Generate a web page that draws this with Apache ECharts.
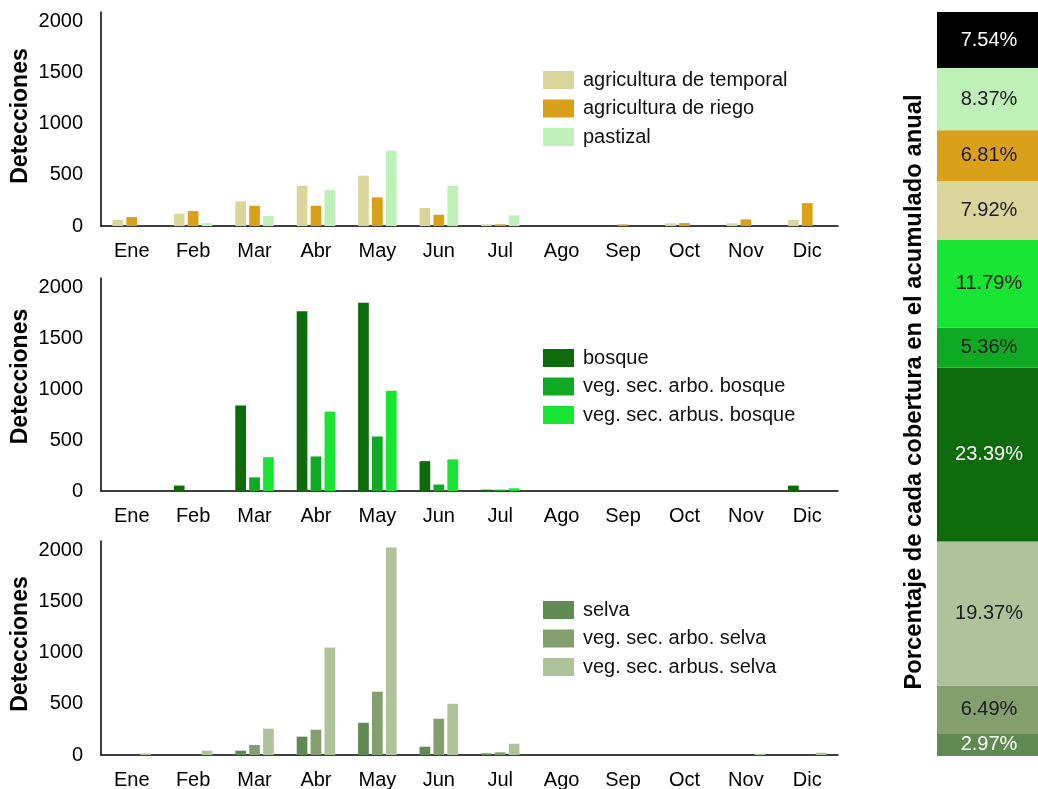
<!DOCTYPE html>
<html>
<head>
<meta charset="utf-8">
<script src="https://cdn.jsdelivr.net/npm/echarts@6/dist/echarts.min.js"></script>
<style>
html,body{margin:0;padding:0;background:#fff;}
#c{width:1038px;height:789px;}
</style>
</head>
<body>
<div id="c"></div>
<script>
const meses = ['Ene','Feb','Mar','Abr','May','Jun','Jul','Ago','Sep','Oct','Nov','Dic'];
const yTicks = [0, 500, 1000, 1500, 2000];

// Panel 1
const agriTemporal = [59,120,241,393,491,176,16,0,0,26,26,59];
const agriRiego    = [88,146,198,198,280,110,16,0,16,29,65,224];
const pastizal     = [0,29,98,351,735,393,104,0,0,0,0,0];
// Panel 2
const bosque         = [0,53,838,1763,1847,293,13,0,0,0,0,53];
const vegArboBosque  = [0,0,134,339,535,63,13,0,0,0,0,0];
const vegArbusBosque = [0,0,332,779,984,310,26,0,0,0,0,0];
// Panel 3
const selva         = [0,0,42,179,315,81,16,0,0,0,0,0];
const vegArboSelva  = [0,0,98,247,618,354,26,0,0,0,0,0];
const vegArbusSelva = [15,42,257,1051,2026,500,110,0,0,0,12,22];

// Annual share (bottom to top)
const coberturas = ['selva','veg. sec. arbo. selva','veg. sec. arbus. selva','bosque','veg. sec. arbo. bosque','veg. sec. arbus. bosque','agricultura de temporal','agricultura de riego','pastizal','otros'];
const porcentajes = [2.97,6.49,19.37,23.39,5.36,11.79,7.92,6.81,8.37,7.54];

const colores = {
  'agricultura de temporal':'#dad59b',
  'agricultura de riego':'#dba019',
  'pastizal':'#bdf1b8',
  'bosque':'#0d6b0b',
  'veg. sec. arbo. bosque':'#10a924',
  'veg. sec. arbus. bosque':'#18e532',
  'selva':'#5f8a51',
  'veg. sec. arbo. selva':'#829f6d',
  'veg. sec. arbus. selva':'#aec39a',
  'otros':'#000000'
};
const labelDark = {'otros':false,'bosque':false,'selva':false};

const FONT = '"Liberation Sans", Arial, sans-serif';

const panels = [
  {top:12, height:214, names:['agricultura de temporal','agricultura de riego','pastizal'], data:[agriTemporal,agriRiego,pastizal], legendTop:70, titleShift:6},
  {top:278, height:213, names:['bosque','veg. sec. arbo. bosque','veg. sec. arbus. bosque'], data:[bosque,vegArboBosque,vegArbusBosque], legendTop:348, titleShift:16},
  {top:541, height:214, names:['selva','veg. sec. arbo. selva','veg. sec. arbus. selva'], data:[selva,vegArboSelva,vegArbusSelva], legendTop:600, titleShift:8}
];

const grid = [], xAxis = [], yAxis = [], series = [], legend = [];
panels.forEach((p, i) => {
  grid.push({left:101, top:p.top, width:737, height:p.height, outerBoundsMode:'none', containLabel:false});
  xAxis.push({
    type:'category', gridIndex:i, data:meses,
    axisLine:{lineStyle:{color:'#000', width:1.5}},
    axisTick:{show:false},
    axisLabel:{color:'#000', fontSize:20, fontFamily:FONT, margin:15, interval:0}
  });
  yAxis.push({
    type:'value', gridIndex:i, min:0, max:2090, interval:500,
    name:'Detecciones', nameLocation:'middle', nameGap:69, nameMoveOverlap:false,
    nameTextStyle:{color:'#000', fontSize:23, fontWeight:'bold', fontFamily:FONT, padding:[0,0,0,p.titleShift]},
    axisLine:{show:true, lineStyle:{color:'#000', width:1.5}},
    axisTick:{show:false},
    splitLine:{show:false},
    axisLabel:{color:'#000', fontSize:20, fontFamily:FONT, margin:18, showMaxLabel:false,
      formatter: v => yTicks.indexOf(v) >= 0 ? String(v) : ''}
  });
  p.names.forEach((n, k) => {
    series.push({
      type:'bar', name:n, xAxisIndex:i, yAxisIndex:i, data:p.data[k],
      barWidth:10.7, barGap:'30%',
      itemStyle:{color:colores[n]},
      emphasis:{disabled:true}
    });
  });
  legend.push({
    data:p.names, left:543, top:p.legendTop, orient:'vertical', padding:0,
    itemWidth:31, itemHeight:18, itemGap:8.5,
    icon:'rect', selectedMode:false,
    textStyle:{color:'#111', fontSize:20, fontFamily:FONT, padding:[0,0,0,4]}
  });
});

// Annual stacked bar
grid.push({left:937, top:12, width:104, height:744, outerBoundsMode:'none', containLabel:false});
xAxis.push({type:'category', gridIndex:3, data:['anual'], show:false});
yAxis.push({
  type:'value', gridIndex:3, min:0, max:100,
  name:'Porcentaje de cada cobertura en el acumulado anual', nameLocation:'middle', nameGap:11, nameMoveOverlap:false,
  nameTextStyle:{color:'#000', fontSize:23.8, fontWeight:'bold', fontFamily:FONT, padding:[0,16,0,0]},
  axisLine:{show:false}, axisTick:{show:false}, axisLabel:{show:false}, splitLine:{show:false}
});
coberturas.forEach((n, k) => {
  series.push({
    type:'bar', name:n, xAxisIndex:3, yAxisIndex:3, stack:'anual',
    data:[porcentajes[k]], barWidth:'100%',
    itemStyle:{color:colores[n]},
    emphasis:{disabled:true},
    label:{show:true, position:'inside', formatter: d => d.value.toFixed(2) + '%',
      fontSize:20, fontFamily:FONT, color: labelDark[n] === false ? '#fff' : '#1a1a1a'}
  });
});

const chart = echarts.init(document.getElementById('c'), null, {renderer:'canvas'});
chart.setOption({
  animation:false,
  backgroundColor:'#fff',
  grid, xAxis, yAxis, series, legend
});
</script>
</body>
</html>
